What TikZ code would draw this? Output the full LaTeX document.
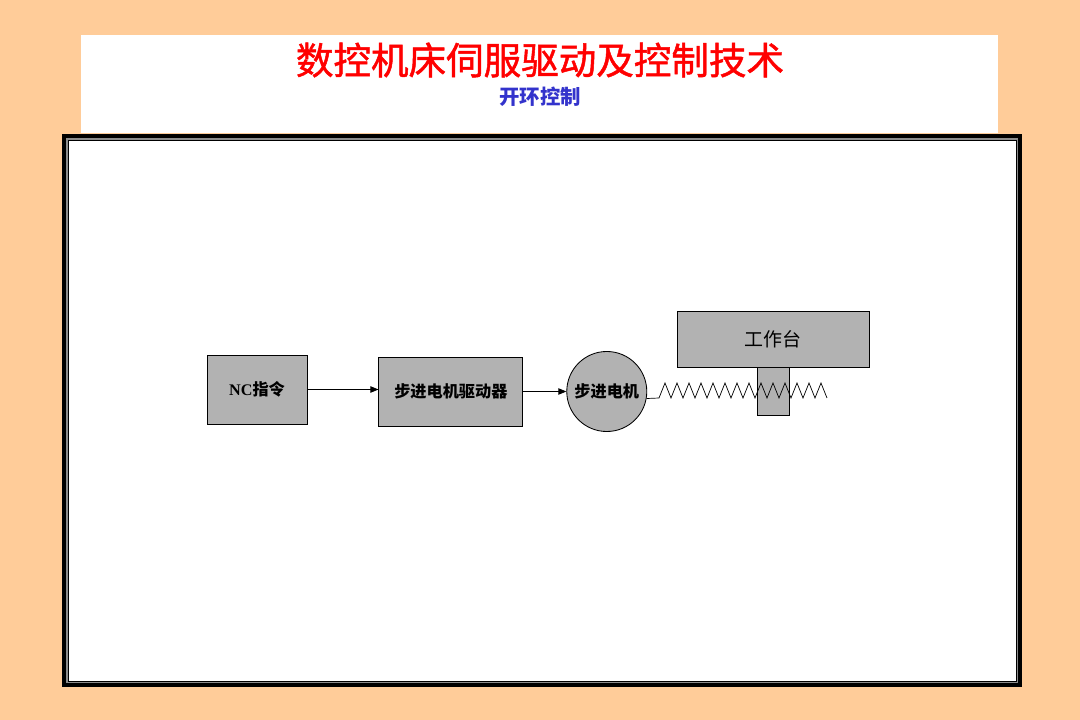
\documentclass[tikz,border=0pt]{standalone}
\usepackage{fontspec}
\setmainfont{Noto Sans CJK SC}
\newfontfamily\latinserif{Liberation Serif}
\newfontfamily\titlefont[FakeBold=1.3]{Noto Sans CJK SC}
\usetikzlibrary{arrows.meta, positioning}
\definecolor{pagebg}{HTML}{FFCC99}
\definecolor{boxgray}{HTML}{B2B2B2}
\definecolor{framegray}{HTML}{8C8C8C}
\definecolor{titlered}{HTML}{FF0000}
\definecolor{subblue}{HTML}{3333CC}
\tikzset{
  blockbox/.style={draw=black, fill=boxgray, line width=0.6pt, inner sep=0pt,
    font=\fontsize{11.5}{13}\selectfont\bfseries},
  flow/.style={line width=0.6pt, -{Triangle[length=2mm, width=1.6mm]}}
}

\begin{document}
\begin{tikzpicture}[x=0.025cm, y=-0.025cm]
    % page and header
    \fill[pagebg] (0,0) rectangle (1080,720);
    \useasboundingbox (0,0) rectangle (1080,720);
    \fill[white] (81,35) rectangle (998,133);
    \node[text=titlered, font=\titlefont\fontsize{26.7}{31}\selectfont] (title) at (540,60)
      {数控机床伺服驱动及控制技术};
    \node[text=subblue, font=\fontsize{14.5}{17}\selectfont\bfseries] (subtitle) at (540,97)
      {开环控制};

    % framed panel
    \fill[black] (62,134) rectangle (1022,687);
    \fill[framegray] (66,138) rectangle (1018,683);
    \filldraw[fill=white, draw=black, line width=0.5pt] (68,140) rectangle (1016,681);

    % blocks
    \node[blockbox, minimum width=2.5cm, minimum height=1.725cm] (nc) at (257,389.5)
      {{\latinserif NC}指令};
    \node[blockbox, minimum width=3.6cm, minimum height=1.725cm,
          right=1.775cm of nc, yshift=-0.05cm] (drv) {\raisebox{-0.8mm}{步进电机驱动器}};
    \node[blockbox, circle, minimum size=2cm, right=1.075cm of drv] (motor) {步进电机};
    \node[blockbox, minimum width=4.8cm, minimum height=1.4cm,
          font=\fontsize{13.5}{16}\selectfont] (table) at (773,339) {工作台};
    \node[blockbox, minimum width=0.8cm, minimum height=1.2cm,
          below=0pt of table] (nut) {};

    \draw[flow] (nc) -- (nc -| drv.west);
    \draw[flow] (drv) -- (motor);

    % lead screw
    \coordinate (s0) at (659,398);
    \draw[line width=0.5pt] (motor.-10) -- (s0)
      \foreach \i in {1,...,14} { -- ++(6,-15) -- ++(6,15) };
  \end{tikzpicture}
\end{document}
